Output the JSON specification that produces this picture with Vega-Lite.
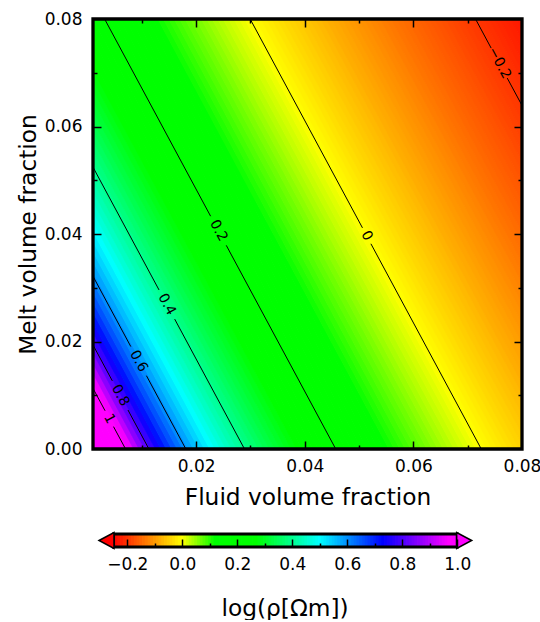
{
"$schema": "https://vega.github.io/schema/vega-lite/v6.json",
"autosize": {"type": "pad"},
"padding": {"left": 16, "top": 10, "right": 0, "bottom": 0},
"background": "white",
"bounds": "flush",
"spacing": 85,
"config": {
  "font": "DejaVu Sans",
  "view": {"stroke": null},
  "axis": {"labelColor": "black", "titleColor": "black", "labelFontSize": 17, "titleFontSize": 23.3, "titleFontWeight": "normal", "grid": false, "domain": false, "tickColor": "black", "labelFlush": false, "labelOverlap": false}
},
"datasets": {
  "stripes": [
{"xb":0.001,"xt":-0.04156,"v":1.86},{"xb":0.002,"xt":-0.04056,"v":1.559},{"xb":0.003,"xt":-0.03956,"v":1.383},{"xb":0.004,"xt":-0.03856,"v":1.258},{"xb":0.005,"xt":-0.03756,"v":1.161},
{"xb":0.006,"xt":-0.03656,"v":1.082},{"xb":0.007,"xt":-0.03556,"v":1.015},{"xb":0.008,"xt":-0.03456,"v":0.957},{"xb":0.009,"xt":-0.03356,"v":0.906},{"xb":0.010,"xt":-0.03256,"v":0.86},
{"xb":0.011,"xt":-0.03156,"v":0.819},{"xb":0.012,"xt":-0.03056,"v":0.781},{"xb":0.013,"xt":-0.02956,"v":0.746},{"xb":0.014,"xt":-0.02856,"v":0.714},{"xb":0.015,"xt":-0.02756,"v":0.684},
{"xb":0.016,"xt":-0.02656,"v":0.656},{"xb":0.017,"xt":-0.02556,"v":0.63},{"xb":0.018,"xt":-0.02456,"v":0.605},{"xb":0.019,"xt":-0.02356,"v":0.581},{"xb":0.020,"xt":-0.02256,"v":0.559},
{"xb":0.021,"xt":-0.02156,"v":0.538},{"xb":0.022,"xt":-0.02056,"v":0.518},{"xb":0.023,"xt":-0.01956,"v":0.498},{"xb":0.024,"xt":-0.01856,"v":0.48},{"xb":0.025,"xt":-0.01756,"v":0.462},
{"xb":0.026,"xt":-0.01656,"v":0.445},{"xb":0.027,"xt":-0.01556,"v":0.429},{"xb":0.028,"xt":-0.01456,"v":0.413},{"xb":0.029,"xt":-0.01356,"v":0.398},{"xb":0.030,"xt":-0.01256,"v":0.383},
{"xb":0.031,"xt":-0.01156,"v":0.369},{"xb":0.032,"xt":-0.01056,"v":0.355},{"xb":0.033,"xt":-0.00956,"v":0.341},{"xb":0.034,"xt":-0.00856,"v":0.329},{"xb":0.035,"xt":-0.00756,"v":0.316},
{"xb":0.036,"xt":-0.00656,"v":0.304},{"xb":0.037,"xt":-0.00556,"v":0.292},{"xb":0.038,"xt":-0.00456,"v":0.28},{"xb":0.039,"xt":-0.00356,"v":0.269},{"xb":0.040,"xt":-0.00256,"v":0.258},
{"xb":0.041,"xt":-0.00156,"v":0.247},{"xb":0.042,"xt":-0.00056,"v":0.237},{"xb":0.043,"xt":0.00044,"v":0.227},{"xb":0.044,"xt":0.00144,"v":0.217},{"xb":0.045,"xt":0.00244,"v":0.207},
{"xb":0.046,"xt":0.00344,"v":0.197},{"xb":0.047,"xt":0.00444,"v":0.188},{"xb":0.048,"xt":0.00544,"v":0.179},{"xb":0.049,"xt":0.00644,"v":0.17},{"xb":0.050,"xt":0.00744,"v":0.161},
{"xb":0.051,"xt":0.00844,"v":0.152},{"xb":0.052,"xt":0.00944,"v":0.144},{"xb":0.053,"xt":0.01044,"v":0.136},{"xb":0.054,"xt":0.01144,"v":0.128},{"xb":0.055,"xt":0.01244,"v":0.12},
{"xb":0.056,"xt":0.01344,"v":0.112},{"xb":0.057,"xt":0.01444,"v":0.104},{"xb":0.058,"xt":0.01544,"v":0.097},{"xb":0.059,"xt":0.01644,"v":0.089},{"xb":0.060,"xt":0.01744,"v":0.082},
{"xb":0.061,"xt":0.01844,"v":0.075},{"xb":0.062,"xt":0.01944,"v":0.068},{"xb":0.063,"xt":0.02044,"v":0.061},{"xb":0.064,"xt":0.02144,"v":0.054},{"xb":0.065,"xt":0.02244,"v":0.047},
{"xb":0.066,"xt":0.02344,"v":0.04},{"xb":0.067,"xt":0.02444,"v":0.034},{"xb":0.068,"xt":0.02544,"v":0.027},{"xb":0.069,"xt":0.02644,"v":0.021},{"xb":0.070,"xt":0.02744,"v":0.015},
{"xb":0.071,"xt":0.02844,"v":0.009},{"xb":0.072,"xt":0.02944,"v":0.003},{"xb":0.073,"xt":0.03044,"v":-0.003},{"xb":0.074,"xt":0.03144,"v":-0.009},{"xb":0.075,"xt":0.03244,"v":-0.015},
{"xb":0.076,"xt":0.03344,"v":-0.021},{"xb":0.077,"xt":0.03444,"v":-0.026},{"xb":0.078,"xt":0.03544,"v":-0.032},{"xb":0.079,"xt":0.03644,"v":-0.038},{"xb":0.080,"xt":0.03744,"v":-0.043},
{"xb":0.081,"xt":0.03844,"v":-0.048},{"xb":0.082,"xt":0.03944,"v":-0.054},{"xb":0.083,"xt":0.04044,"v":-0.059},{"xb":0.084,"xt":0.04144,"v":-0.064},{"xb":0.085,"xt":0.04244,"v":-0.069},
{"xb":0.086,"xt":0.04344,"v":-0.075},{"xb":0.087,"xt":0.04444,"v":-0.08},{"xb":0.088,"xt":0.04544,"v":-0.084},{"xb":0.089,"xt":0.04644,"v":-0.089},{"xb":0.090,"xt":0.04744,"v":-0.094},
{"xb":0.091,"xt":0.04844,"v":-0.099},{"xb":0.092,"xt":0.04944,"v":-0.104},{"xb":0.093,"xt":0.05044,"v":-0.108},{"xb":0.094,"xt":0.05144,"v":-0.113},{"xb":0.095,"xt":0.05244,"v":-0.118},
{"xb":0.096,"xt":0.05344,"v":-0.122},{"xb":0.097,"xt":0.05444,"v":-0.127},{"xb":0.098,"xt":0.05544,"v":-0.131},{"xb":0.099,"xt":0.05644,"v":-0.136},{"xb":0.100,"xt":0.05744,"v":-0.14},
{"xb":0.101,"xt":0.05844,"v":-0.144},{"xb":0.102,"xt":0.05944,"v":-0.149},{"xb":0.103,"xt":0.06044,"v":-0.153},{"xb":0.104,"xt":0.06144,"v":-0.157},{"xb":0.105,"xt":0.06244,"v":-0.161},
{"xb":0.106,"xt":0.06344,"v":-0.165},{"xb":0.107,"xt":0.06444,"v":-0.169},{"xb":0.108,"xt":0.06544,"v":-0.173},{"xb":0.109,"xt":0.06644,"v":-0.177},{"xb":0.110,"xt":0.06744,"v":-0.181},
{"xb":0.111,"xt":0.06844,"v":-0.185},{"xb":0.112,"xt":0.06944,"v":-0.189},{"xb":0.113,"xt":0.07044,"v":-0.193},{"xb":0.114,"xt":0.07144,"v":-0.197},{"xb":0.115,"xt":0.07244,"v":-0.201},
{"xb":0.116,"xt":0.07344,"v":-0.204},{"xb":0.117,"xt":0.07444,"v":-0.208},{"xb":0.118,"xt":0.07544,"v":-0.212},{"xb":0.119,"xt":0.07644,"v":-0.216},{"xb":0.120,"xt":0.07744,"v":-0.219},
{"xb":0.121,"xt":0.07844,"v":-0.223},{"xb":0.122,"xt":0.07944,"v":-0.226},{"xb":0.123,"xt":0.08044,"v":-0.23}
  ],
  "contours": [
{"level":"1","part":1,"x":0.001,"y":0.01128},{"level":"1","part":1,"x":0.00322,"y":0.00712},
{"level":"1","part":2,"x":0.00478,"y":0.00416},{"level":"1","part":2,"x":0.007,"y":0},
{"level":"0.8","part":1,"x":0.001,"y":0.01936},{"level":"0.8","part":1,"x":0.00456,"y":0.01267},
{"level":"0.8","part":2,"x":0.00744,"y":0.00725},{"level":"0.8","part":2,"x":0.0113,"y":0},
{"level":"0.6","part":1,"x":0.001,"y":0.03214},{"level":"0.6","part":1,"x":0.00796,"y":0.01906},
{"level":"0.6","part":2,"x":0.01084,"y":0.01364},{"level":"0.6","part":2,"x":0.0181,"y":0},
{"level":"0.4","part":1,"x":0.001,"y":0.05244},{"level":"0.4","part":1,"x":0.01316,"y":0.02959},
{"level":"0.4","part":2,"x":0.01604,"y":0.02417},{"level":"0.4","part":2,"x":0.0289,"y":0},
{"level":"0.2","part":1,"x":0.00314,"y":0.08},{"level":"0.2","part":1,"x":0.02266,"y":0.04331},
{"level":"0.2","part":2,"x":0.02554,"y":0.03789},{"level":"0.2","part":2,"x":0.0457,"y":0},
{"level":"0","part":1,"x":0.02994,"y":0.08},{"level":"0","part":1,"x":0.05062,"y":0.04114},
{"level":"0","part":2,"x":0.05218,"y":0.03818},{"level":"0","part":2,"x":0.0725,"y":0},
{"level":"-0.2","part":1,"x":0.07144,"y":0.08},{"level":"-0.2","part":1,"x":0.07432,"y":0.07459},
{"level":"-0.2","part":2,"x":0.07728,"y":0.06901},{"level":"-0.2","part":2,"x":0.08,"y":0.06391}
  ],
  "labels": [
{"x":0.004,"y":0.00564,"t":"1"},{"x":0.006,"y":0.00996,"t":"0.8"},{"x":0.0094,"y":0.01635,"t":"0.6"},
{"x":0.0146,"y":0.02688,"t":"0.4"},{"x":0.0241,"y":0.0406,"t":"0.2"},{"x":0.0514,"y":0.03966,"t":"0"},
{"x":0.0758,"y":0.0718,"t":"−0.2"}
  ],
  "cb": [
{"v":-0.25},{"v":-0.24},{"v":-0.23},{"v":-0.22},{"v":-0.21},{"v":-0.2},{"v":-0.19},{"v":-0.18},{"v":-0.17},{"v":-0.16},
{"v":-0.15},{"v":-0.14},{"v":-0.13},{"v":-0.12},{"v":-0.11},{"v":-0.1},{"v":-0.09},{"v":-0.08},{"v":-0.07},{"v":-0.06},
{"v":-0.05},{"v":-0.04},{"v":-0.03},{"v":-0.02},{"v":-0.01},{"v":0},{"v":0.01},{"v":0.02},{"v":0.03},{"v":0.04},
{"v":0.05},{"v":0.06},{"v":0.07},{"v":0.08},{"v":0.09},{"v":0.1},{"v":0.11},{"v":0.12},{"v":0.13},{"v":0.14},
{"v":0.15},{"v":0.16},{"v":0.17},{"v":0.18},{"v":0.19},{"v":0.2},{"v":0.21},{"v":0.22},{"v":0.23},{"v":0.24},
{"v":0.25},{"v":0.26},{"v":0.27},{"v":0.28},{"v":0.29},{"v":0.3},{"v":0.31},{"v":0.32},{"v":0.33},{"v":0.34},
{"v":0.35},{"v":0.36},{"v":0.37},{"v":0.38},{"v":0.39},{"v":0.4},{"v":0.41},{"v":0.42},{"v":0.43},{"v":0.44},
{"v":0.45},{"v":0.46},{"v":0.47},{"v":0.48},{"v":0.49},{"v":0.5},{"v":0.51},{"v":0.52},{"v":0.53},{"v":0.54},
{"v":0.55},{"v":0.56},{"v":0.57},{"v":0.58},{"v":0.59},{"v":0.6},{"v":0.61},{"v":0.62},{"v":0.63},{"v":0.64},
{"v":0.65},{"v":0.66},{"v":0.67},{"v":0.68},{"v":0.69},{"v":0.7},{"v":0.71},{"v":0.72},{"v":0.73},{"v":0.74},
{"v":0.75},{"v":0.76},{"v":0.77},{"v":0.78},{"v":0.79},{"v":0.8},{"v":0.81},{"v":0.82},{"v":0.83},{"v":0.84},
{"v":0.85},{"v":0.86},{"v":0.87},{"v":0.88},{"v":0.89},{"v":0.9},{"v":0.91},{"v":0.92},{"v":0.93},{"v":0.94},
{"v":0.95},{"v":0.96},{"v":0.97},{"v":0.98},{"v":0.99},{"v":1.0}
  ],
  "cbbox": [{"a":-0.25,"b":1.0}],
  "ends": [{"x":-0.2775,"side":"l"},{"x":1.0269,"side":"r"}]
},
"vconcat": [
  {
    "width": 429,
    "height": 430,
    "resolve": {"axis": {"x": "independent", "y": "independent"}},
    "layer": [
      {
        "data": {"name": "stripes"},
        "mark": {"type": "rule", "strokeWidth": 5.5, "strokeCap": "square", "clip": true},
        "encoding": {
          "x": {"field": "xb", "type": "quantitative", "scale": {"domain": [0.001, 0.08], "nice": false, "zero": false},
                "axis": {"orient": "bottom", "values": [0.02, 0.04, 0.06, 0.08], "format": ".2f", "ticks": false, "labelPadding": 9,
                         "title": "Fluid volume fraction", "titleX": 214.5, "titleY": 55, "titleBaseline": "alphabetic"}},
          "x2": {"field": "xt"},
          "y": {"datum": 0, "type": "quantitative", "scale": {"domain": [0, 0.08], "nice": false, "zero": false}, "axis": null},
          "y2": {"datum": 0.08},
          "color": {"field": "v", "type": "quantitative", "legend": null,
                    "scale": {"type": "linear", "domain": [-0.25, 0, 0.12, 0.27, 0.5, 0.73, 0.97, 1.0], "range": ["#ff0000", "#ffff00", "#00ff00", "#00ff00", "#00ffff", "#0000ff", "#ff00ff", "#ff00ff"], "clamp": true, "interpolate": "rgb"}}
        }
      },
      {
        "data": {"name": "contours"},
        "transform": [{"filter": "datum.part == 1"}],
        "mark": {"type": "line", "color": "black", "strokeWidth": 1},
        "encoding": {
          "x": {"field": "x", "type": "quantitative", "scale": {"domain": [0.001, 0.08], "nice": false, "zero": false},
                "axis": {"orient": "bottom", "values": [0.01, 0.02, 0.03, 0.04, 0.05, 0.06, 0.07], "labels": false, "title": null, "zindex": 1, "tickWidth": 1.5,
                         "tickSize": {"condition": {"test": "round(datum.value*100) % 2 === 0", "value": -8}, "value": -4}}},
          "y": {"field": "y", "type": "quantitative", "scale": {"domain": [0, 0.08], "nice": false, "zero": false},
                "axis": {"orient": "left", "values": [0, 0.02, 0.04, 0.06, 0.08], "format": ".2f", "ticks": false, "labelPadding": 11,
                         "title": "Melt volume fraction", "titleX": -58, "titleY": 215, "titleBaseline": "alphabetic"}},
          "detail": {"field": "level"}
        }
      },
      {
        "data": {"name": "contours"},
        "transform": [{"filter": "datum.part == 2"}],
        "mark": {"type": "line", "color": "black", "strokeWidth": 1},
        "encoding": {
          "x": {"field": "x", "type": "quantitative", "scale": {"domain": [0.001, 0.08], "nice": false, "zero": false},
                "axis": {"orient": "top", "values": [0.01, 0.02, 0.03, 0.04, 0.05, 0.06, 0.07], "labels": false, "title": null, "zindex": 1, "tickWidth": 1.5,
                         "tickSize": {"condition": {"test": "round(datum.value*100) % 2 === 0", "value": -8}, "value": -4}}},
          "y": {"field": "y", "type": "quantitative", "scale": {"domain": [0, 0.08], "nice": false, "zero": false},
                "axis": {"orient": "left", "values": [0.01, 0.02, 0.03, 0.04, 0.05, 0.06, 0.07], "labels": false, "title": null, "zindex": 1, "tickWidth": 1.5,
                         "tickSize": {"condition": {"test": "round(datum.value*100) % 2 === 0", "value": -8}, "value": -4}}},
          "detail": {"field": "level"}
        }
      },
      {
        "data": {"name": "cbbox"},
        "mark": {"type": "rect", "fillOpacity": 0, "stroke": "black", "strokeWidth": 3.3},
        "encoding": {
          "x": {"datum": 0.001, "type": "quantitative", "scale": {"domain": [0.001, 0.08], "nice": false, "zero": false}, "axis": null},
          "x2": {"datum": 0.08},
          "y": {"datum": 0, "type": "quantitative", "scale": {"domain": [0, 0.08], "nice": false, "zero": false}, "axis": null},
          "y2": {"datum": 0.08}
        }
      },
      {
        "data": {"name": "labels"},
        "mark": {"type": "text", "angle": 62, "fontSize": 14, "align": "center", "baseline": "middle", "color": "black"},
        "encoding": {
          "x": {"field": "x", "type": "quantitative", "scale": {"domain": [0.001, 0.08], "nice": false, "zero": false}, "axis": null},
          "y": {"field": "y", "type": "quantitative", "scale": {"domain": [0, 0.08], "nice": false, "zero": false},
                "axis": {"orient": "right", "values": [0.01, 0.02, 0.03, 0.04, 0.05, 0.06, 0.07], "labels": false, "title": null, "zindex": 1, "tickWidth": 1.5,
                         "tickSize": {"condition": {"test": "round(datum.value*100) % 2 === 0", "value": -8}, "value": -4}}},
          "text": {"field": "t"}
        }
      }
    ]
  },
  {
    "width": 429,
    "height": 13,
    "resolve": {"axis": {"x": "independent", "y": "independent"}},
    "layer": [
      {
        "data": {"name": "cb"},
        "mark": {"type": "rule", "strokeWidth": 3.5},
        "encoding": {
          "x": {"field": "v", "type": "quantitative", "scale": {"domain": [-0.3247, 1.2353], "nice": false, "zero": false},
                "axis": {"orient": "bottom", "values": [-0.2, 0, 0.2, 0.4, 0.6, 0.8, 1.0], "format": ".1f", "ticks": false, "labelPadding": 9,
                         "title": "log(ρ[Ωm])", "titleX": 191.5, "titleY": 68, "titleBaseline": "alphabetic"}},
          "y": {"datum": 0, "type": "quantitative", "scale": {"domain": [0, 1], "nice": false, "zero": false}, "axis": null},
          "y2": {"datum": 1},
          "color": {"field": "v", "type": "quantitative", "legend": null,
                    "scale": {"type": "linear", "domain": [-0.25, 0, 0.12, 0.27, 0.5, 0.73, 0.97, 1.0], "range": ["#ff0000", "#ffff00", "#00ff00", "#00ff00", "#00ffff", "#0000ff", "#ff00ff", "#ff00ff"], "clamp": true, "interpolate": "rgb"}}
        }
      },
      {
        "data": {"name": "cbbox"},
        "mark": {"type": "rect", "fillOpacity": 0, "stroke": "black", "strokeWidth": 3},
        "encoding": {
          "x": {"field": "a", "type": "quantitative", "scale": {"domain": [-0.3247, 1.2353], "nice": false, "zero": false},
                "axis": {"orient": "bottom", "values": [-0.2, -0.1, 0, 0.1, 0.2, 0.3, 0.4, 0.5, 0.6, 0.7, 0.8, 0.9, 1.0], "labels": false, "title": null, "zindex": 1, "tickWidth": 1.5,
                         "tickSize": {"condition": {"test": "round(datum.value*10) % 2 === 0", "value": -8}, "value": -4}}},
          "x2": {"field": "b"},
          "y": {"datum": 0, "type": "quantitative", "scale": {"domain": [0, 1], "nice": false, "zero": false}, "axis": null},
          "y2": {"datum": 1}
        }
      },
      {
        "data": {"name": "ends"},
        "mark": {"type": "point", "filled": true, "size": 256, "stroke": "black", "strokeWidth": 1.5, "opacity": 1},
        "encoding": {
          "x": {"field": "x", "type": "quantitative", "scale": {"domain": [-0.3247, 1.2353], "nice": false, "zero": false}, "axis": null},
          "y": {"datum": 0.5, "type": "quantitative", "scale": {"domain": [0, 1], "nice": false, "zero": false}, "axis": null},
          "shape": {"field": "side", "type": "nominal", "legend": null, "scale": {"domain": ["l", "r"], "range": ["M-0.87,0L1,-1L1,1Z", "M0.87,0L-1,-1L-1,1Z"]}},
          "fill": {"field": "side", "type": "nominal", "legend": null, "scale": {"domain": ["l", "r"], "range": ["#ff0000", "#ff00ff"]}}
        }
      }
    ]
  }
]
}
